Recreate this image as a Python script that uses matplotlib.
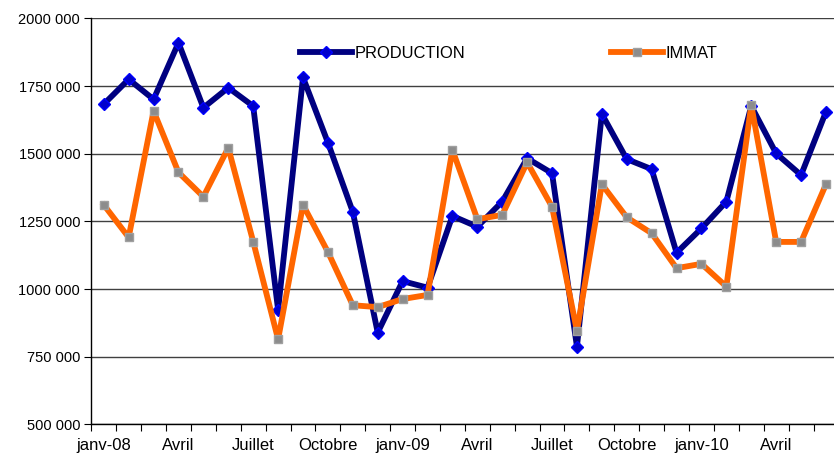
import numpy as np
import matplotlib.pyplot as plt
from matplotlib.ticker import FuncFormatter

plt.rcParams['font.family'] = ['Liberation Sans', 'DejaVu Sans']

# monthly values, janv-08 .. juin-10
production = [1683000, 1775000, 1701000, 1910000, 1670000, 1744000, 1676000, 923000,
              1782000, 1541000, 1285000, 839000, 1029000, 1005000, 1270000, 1230000,
              1323000, 1483000, 1428000, 787000, 1647000, 1480000, 1443000, 1134000,
              1224000, 1323000, 1676000, 1501000, 1421000, 1655000]
immat = [1311000, 1191000, 1658000, 1431000, 1341000, 1522000, 1175000, 814000,
         1311000, 1137000, 940000, 933000, 963000, 978000, 1514000, 1258000,
         1274000, 1468000, 1304000, 845000, 1387000, 1265000, 1206000, 1077000,
         1093000, 1009000, 1680000, 1174000, 1174000, 1387000]
month_labels = ['janv-08', 'Avril', 'Juillet', 'Octobre', 'janv-09', 'Avril',
                'Juillet', 'Octobre', 'janv-10', 'Avril']

x = np.arange(len(production))

fig = plt.figure(figsize=(8.34, 4.55), dpi=100)
ax = fig.add_axes([0.1095, 0.0675, 0.8958, 0.892])

ax.plot(x, production, color='#000080', lw=4.2, marker='D', ms=6,
        mfc='#0000CC', mec='#0000FF', mew=1, label='PRODUCTION', zorder=3)
ax.plot(x, immat, color='#FF6600', lw=4.2, marker='s', ms=6,
        mfc='#8C8C8C', mec='#A0A0A0', mew=1, label='IMMAT', zorder=4)

ax.set_xlim(-0.5, len(x) - 0.5)
ax.set_ylim(500000, 2000000)
ax.set_yticks(np.arange(500000, 2000001, 250000))
ax.yaxis.set_major_formatter(FuncFormatter(lambda v, p: '%d 000' % (v // 1000)))
ax.yaxis.grid(True, color='#404040', lw=1)
ax.set_axisbelow(True)

# tick marks between months, labels every 3 months
ax.set_xticks(np.arange(-0.5, len(x), 1))
ax.set_xticklabels([])
ax.set_xticks(np.arange(0, len(x), 3), minor=True)
ax.set_xticklabels(month_labels, minor=True)
ax.tick_params(axis='x', which='major', length=5, color='black', direction='out')
ax.tick_params(axis='x', which='minor', length=0, pad=10, labelsize=12)
ax.tick_params(axis='y', length=5, labelsize=10.5, pad=3)

for s in ['top', 'right']:
    ax.spines[s].set_visible(False)
for s in ['left', 'bottom']:
    ax.spines[s].set_color('black')
    ax.spines[s].set_linewidth(1)

ax.legend(loc='center left', bbox_to_anchor=(300 / 834, 1 - 53 / 455),
          bbox_transform=fig.transFigure, ncol=2, frameon=False,
          handlelength=3.15, handletextpad=0.15, columnspacing=8.8,
          borderpad=0, borderaxespad=0, fontsize=11.9)

fig.savefig('out.png', dpi=100)
